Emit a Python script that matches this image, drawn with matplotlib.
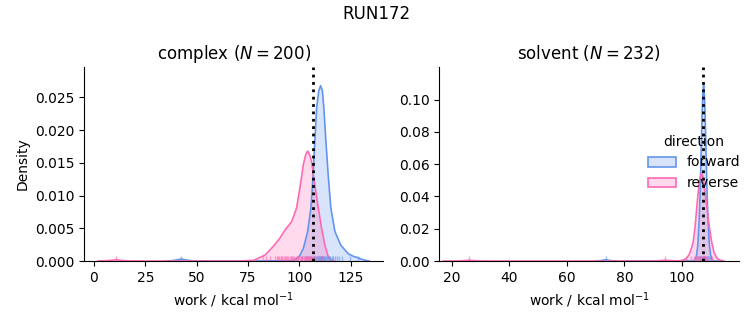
import matplotlib
matplotlib.use("Agg")
import matplotlib.pyplot as plt
import matplotlib.transforms as mtransforms
from matplotlib.patches import Patch

# density curves (work in kcal/mol, density)
complex_fwd_x = [35, 38, 40, 42.5, 45, 48, 60, 80, 95, 97.5, 100, 102, 104.1, 105.7, 106.8, 107.6, 108.5,
                 109.5, 110.4, 111.3, 112, 113, 114.1, 115.4, 117.4, 120.3, 123.9, 126.5, 128.7, 131, 134]
complex_fwd_y = [0, 0.00005, 0.00015, 0.0003, 0.00015, 0.00003, 0, 0, 0.00005, 0.0001, 0.0007, 0.0019,
                 0.0045, 0.0081, 0.0132, 0.0183, 0.0234, 0.0260, 0.0268, 0.0260, 0.0234, 0.0183, 0.0132,
                 0.0081, 0.0045, 0.0024, 0.0011, 0.0007, 0.0005, 0.0002, 0]
complex_rev_x = [2, 6, 9, 10.7, 12.5, 16, 25, 50, 70, 77.5, 79.3, 83.3, 87.3, 90.6, 93, 96.3, 98.7, 100.3,
                 102, 103.2, 104.1, 105, 106, 107.6, 109.3, 110.9, 112.5, 114.1, 115.5, 117]
complex_rev_y = [0, 0.00005, 0.00012, 0.0002, 0.00012, 0.00003, 0, 0, 0, 0.0001, 0.0003, 0.0009, 0.0022,
                 0.0035, 0.0047, 0.0060, 0.0081, 0.0111, 0.0147, 0.0163, 0.0168, 0.0163, 0.0152, 0.0116,
                 0.0081, 0.0050, 0.0024, 0.0007, 0.0002, 0]
solvent_fwd_x = [70, 72, 73.5, 75, 77, 100, 104, 104.5, 105, 105.5, 106, 106.25, 106.5, 106.75, 107, 107.25,
                 107.5, 107.75, 108, 108.25, 108.5, 108.75, 109, 109.5, 110, 110.5, 111, 113]
solvent_fwd_y = [0, 0.0003, 0.0008, 0.0003, 0, 0, 0, 0.0008, 0.003, 0.010, 0.027, 0.040, 0.056, 0.075,
                 0.092, 0.104, 0.1089, 0.104, 0.092, 0.075, 0.056, 0.040, 0.027, 0.010, 0.003, 0.0008, 0, 0]
solvent_rev_x = [17, 22, 24, 26.1, 28, 30, 35, 90, 92, 94.2, 96.5, 98, 100, 101.5, 102.5, 103.3, 103.9,
                 104.6, 105.1, 105.7, 106.3, 106.8, 107.3, 107.9, 108.7, 109.5, 110.3, 111.1, 112, 113.2, 114.5]
solvent_rev_y = [0, 0.00005, 0.0002, 0.0005, 0.0002, 0.00005, 0, 0, 0.0002, 0.0005, 0.0002, 0.0001, 0.0003,
                 0.0015, 0.004, 0.008, 0.0119, 0.022, 0.0326, 0.044, 0.052, 0.0543, 0.052, 0.044, 0.0326,
                 0.021, 0.0119, 0.0055, 0.002, 0.0005, 0]

# individual work values (rug)
complex_fwd_work = [42.5, 101.2, 102.8, 103.5, 104.4, 105.1, 105.9, 106.5, 107.2, 107.8, 108.3, 108.7, 109.1,
                    109.4, 109.6, 109.8, 110.1, 110.4, 110.6, 110.7, 111.0, 111.3, 111.6, 111.9, 112.3,
                    112.6, 113.0, 113.4, 113.9, 114.5, 115.1, 115.8, 116.6, 117.5, 118.4, 119.6, 121.0,
                    124.5, 128.7]
complex_rev_work = [10.7, 82.5, 84.0, 85.6, 88.1, 89.2, 89.7, 90.0, 90.9, 91.3, 91.7, 92.4, 93.1, 93.8,
                    94.2, 94.6, 95.3, 96.0, 96.4, 96.8, 97.5, 98.2, 98.9, 99.3, 99.6, 100.3, 100.9, 101.2,
                    101.5, 102.1, 102.6, 103.1, 103.4, 103.6, 104.0, 104.2, 104.4, 104.8, 105.0, 105.2,
                    105.6, 106.0, 106.5, 107.1, 107.8, 108.6, 109.5, 111.0]
solvent_fwd_work = [73.5, 104.8, 105.4, 105.9, 106.3, 106.6, 106.9, 107.1, 107.3, 107.5, 107.7, 107.9,
                    108.1, 108.4, 108.7, 109.1, 109.7, 110.2]
solvent_rev_work = [26.1, 94.2, 101.5, 103.2, 104.1, 104.8, 105.3, 105.7, 106.0, 106.3, 106.6, 106.9,
                    107.2, 107.5, 107.8, 108.2, 108.7, 109.4, 110.3]

complex_estimate = 106.6
solvent_estimate = 107.2

FWD_COLOR = "cornflowerblue"
REV_COLOR = "hotpink"


def draw_phase(ax, curves, rugs, estimate, title):
    for (x, y), color in curves:
        ax.fill_between(x, y, color=color, alpha=0.25, lw=0)
        ax.plot(x, y, color=color, lw=1.2)
    trans = mtransforms.blended_transform_factory(ax.transData, ax.transAxes)
    for work, color in rugs:
        ax.vlines(work, 0, 0.025, transform=trans, color=color, alpha=0.6, lw=1)
    ax.axvline(estimate, color="k", ls=":", lw=2)
    ax.set_title(title, fontsize=12)
    ax.set_xlabel("work / kcal mol$^{-1}$")
    ax.spines["top"].set_visible(False)
    ax.spines["right"].set_visible(False)


def main():
    fig = plt.figure(figsize=(7.53, 3.25), dpi=100)
    ax1 = fig.add_axes([0.1122, 0.1969, 0.3964, 0.5969])
    ax2 = fig.add_axes([0.5834, 0.1969, 0.3984, 0.5969])

    draw_phase(ax1, [((complex_fwd_x, complex_fwd_y), FWD_COLOR), ((complex_rev_x, complex_rev_y), REV_COLOR)],
               [(complex_fwd_work, FWD_COLOR), (complex_rev_work, REV_COLOR)],
               complex_estimate, "complex ($N = 200$)")
    draw_phase(ax2, [((solvent_fwd_x, solvent_fwd_y), FWD_COLOR), ((solvent_rev_x, solvent_rev_y), REV_COLOR)],
               [(solvent_fwd_work, FWD_COLOR), (solvent_rev_work, REV_COLOR)],
               solvent_estimate, "solvent ($N = 232$)")

    ax1.set_xlim(-4.6, 140.8)
    ax1.set_ylim(0, 0.02965)
    ax1.set_xticks([0, 25, 50, 75, 100, 125])
    ax1.set_yticks([0, 0.005, 0.01, 0.015, 0.02, 0.025])
    ax1.yaxis.set_major_formatter(matplotlib.ticker.FormatStrFormatter("%.3f"))
    ax1.set_ylabel("Density")

    ax2.set_xlim(15.7, 119.9)
    ax2.set_ylim(0, 0.1202)
    ax2.set_xticks([20, 40, 60, 80, 100])
    ax2.set_yticks([0, 0.02, 0.04, 0.06, 0.08, 0.10])
    ax2.yaxis.set_major_formatter(matplotlib.ticker.FormatStrFormatter("%.2f"))

    handles = [Patch(facecolor=matplotlib.colors.to_rgba(FWD_COLOR, 0.25), edgecolor=FWD_COLOR, lw=1.2),
               Patch(facecolor=matplotlib.colors.to_rgba(REV_COLOR, 0.25), edgecolor=REV_COLOR, lw=1.2)]
    fig.legend(handles, ["forward", "reverse"], title="direction", loc="center right",
               bbox_to_anchor=(1.0, 0.5), frameon=False)

    fig.suptitle("RUN172", fontsize=12, y=0.985)
    fig.savefig("out.png", dpi=100)


main()
